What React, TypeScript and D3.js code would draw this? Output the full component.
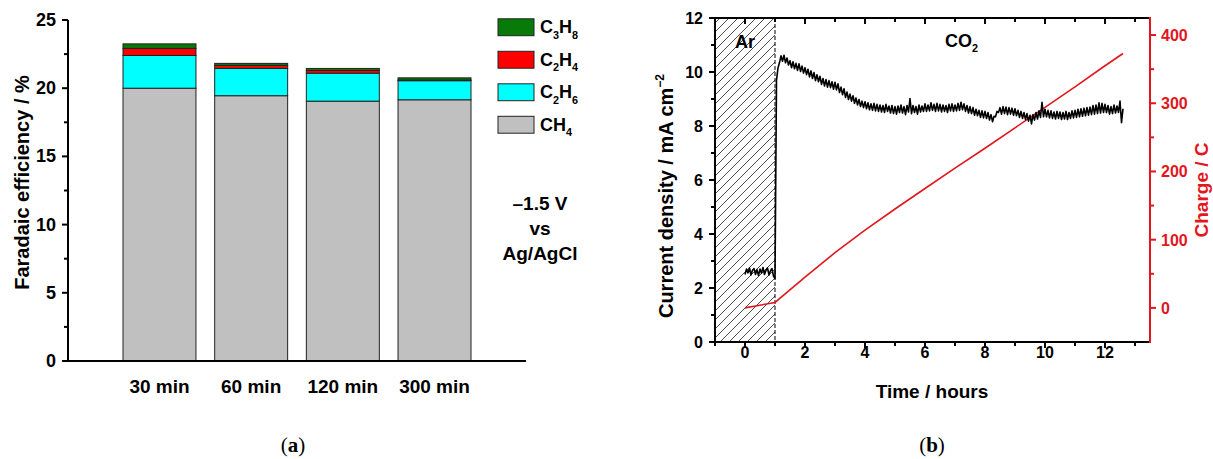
import React from 'react';
import * as d3 from 'd3';

// panel (a): faradaic efficiency, stacked by product
const categories = ['30 min', '60 min', '120 min', '300 min'];
const species = ['CH4', 'C2H6', 'C2H4', 'C3H8'];
const ch4 = [20.0, 19.45, 19.05, 19.15];
const c2h6 = [2.4, 2.0, 2.05, 1.4];
const c2h4 = [0.52, 0.22, 0.2, 0.05];
const c3h8 = [0.33, 0.15, 0.15, 0.16];
const colors = { CH4: '#c0c0c0', C2H6: '#00ffff', C2H4: '#ff0000', C3H8: '#087a08' };
const legendOrder = ['C3H8', 'C2H4', 'C2H6', 'CH4'];

// panel (b): chronoamperometry, current sampled every 0.05 h from t = 0
const currentStart = 0;
const currentStep = 0.05;
const currentValues = [
  2.50, 2.70, 2.56, 2.74, 2.48, 2.66, 2.72, 2.50, 2.68, 2.46,
  2.70, 2.55, 2.76, 2.50, 2.66, 2.74, 2.48, 2.64, 2.72, 2.44,
  2.35, 9.7, 10.15, 10.35, 10.60, 10.40, 10.62, 10.34, 10.52, 10.26,
  10.42, 10.16, 10.38, 10.12, 10.32, 10.06, 10.30, 10.02, 10.22, 9.96,
  10.16, 9.90, 10.10, 9.82, 10.04, 9.76, 9.98, 9.68, 9.90, 9.64,
  9.84, 9.54, 9.76, 9.48, 9.72, 9.44, 9.68, 9.42, 9.64, 9.36,
  9.62, 9.34, 9.56, 9.24, 9.44, 9.16, 9.38, 9.06, 9.26, 8.98,
  9.18, 8.92, 9.12, 8.84, 9.04, 8.78, 8.98, 8.72, 8.92, 8.68,
  8.90, 8.64, 8.86, 8.60, 8.82, 8.58, 8.84, 8.56, 8.80, 8.54,
  8.78, 8.52, 8.76, 8.50, 8.80, 8.54, 8.74, 8.48, 8.76, 8.46,
  8.72, 8.44, 8.74, 8.50, 8.78, 8.48, 8.72, 8.42, 8.76, 8.52,
  9.02, 8.46, 8.76, 8.50, 8.72, 8.44, 8.78, 8.52, 8.74, 8.54,
  8.82, 8.54, 8.78, 8.56, 8.86, 8.58, 8.80, 8.54, 8.84, 8.56,
  8.80, 8.52, 8.78, 8.54, 8.76, 8.50, 8.80, 8.56, 8.82, 8.54,
  8.78, 8.56, 8.84, 8.58, 8.88, 8.60, 8.82, 8.54, 8.76, 8.48,
  8.72, 8.46, 8.68, 8.40, 8.62, 8.38, 8.58, 8.32, 8.56, 8.30,
  8.54, 8.28, 8.50, 8.22, 8.42, 8.16, 8.36, 8.34, 8.54, 8.50,
  8.68, 8.44, 8.72, 8.46, 8.70, 8.42, 8.68, 8.44, 8.66, 8.40,
  8.64, 8.38, 8.58, 8.32, 8.54, 8.28, 8.50, 8.24, 8.46, 8.18,
  8.40, 8.08, 8.42, 8.22, 8.50, 8.26, 8.56, 8.32, 8.88, 8.34,
  8.62, 8.34, 8.58, 8.30, 8.56, 8.28, 8.52, 8.26, 8.54, 8.28,
  8.52, 8.24, 8.50, 8.26, 8.54, 8.24, 8.50, 8.28, 8.56, 8.30,
  8.58, 8.32, 8.62, 8.34, 8.64, 8.36, 8.66, 8.38, 8.68, 8.40,
  8.70, 8.42, 8.76, 8.44, 8.78, 8.46, 8.86, 8.48, 8.84, 8.50,
  8.80, 8.50, 8.76, 8.44, 8.72, 8.46, 8.78, 8.48, 8.74, 8.50,
  8.92, 8.12, 8.64,
];
const chargeTimes = [0, 1, 2, 3, 4, 5, 6, 7, 8, 9, 10, 11, 12, 12.6];
const chargeValues = [0, 8, 45, 81, 114, 145, 175, 205, 234, 264, 294, 324, 355, 373];

const FONT = '"Liberation Sans", Arial, Helvetica, sans-serif';
const RED = '#e3161d';

// draws C2H6 etc. with the digits lowered
function Formula({ text, x, y, size, anchor = 'start' }) {
  const parts = text.match(/[A-Za-z]+|\d+/g) || [];
  let shifted = false;
  return (
    <text x={x} y={y} fontFamily={FONT} fontWeight={700} fontSize={size} textAnchor={anchor}>
      {parts.map((p, i) => {
        const isNum = /\d/.test(p);
        const dy = isNum && !shifted ? size * 0.3 : !isNum && shifted ? -size * 0.3 : 0;
        shifted = isNum;
        return (
          <tspan key={i} dy={dy} fontSize={isNum ? size * 0.6 : size}>
            {p}
          </tspan>
        );
      })}
    </text>
  );
}

export default function App() {
  // ---------- panel (a)
  const ay = d3.scaleLinear().domain([0, 25]).range([361, 20]);
  const ax = d3.scaleBand().domain(categories).range([68, 526]).paddingInner(0.204).paddingOuter(0.6);
  const rows = categories.map((c, i) => ({ cat: c, CH4: ch4[i], C2H6: c2h6[i], C2H4: c2h4[i], C3H8: c3h8[i] }));
  const stacked = d3.stack().keys(species)(rows);
  const aMajor = ay.ticks(5);
  const aMinor = d3.range(2.5, 25, 5);
  const legY = d3.scaleBand().domain(legendOrder).range([11, 141]).paddingInner(0.48).paddingOuter(0.24);

  // ---------- panel (b)
  const bx = d3.scaleLinear().domain([-1, 13.5]).range([715, 1150]);
  const byL = d3.scaleLinear().domain([0, 12]).range([342, 18]);
  const byR = d3.scaleLinear().domain([-50, 425]).range([342, 18]);
  const xMajor = bx.ticks(7);
  const xMinor = d3.range(-1, 14, 1);
  const lMajor = byL.ticks(6);
  const lMinor = d3.range(1, 12, 2);
  const rMajor = byR.ticks(5);
  const rMinor = d3.range(50, 425, 100);

  const currentLine = d3
    .line<number>()
    .x((_, i) => bx(currentStart + i * currentStep))
    .y((d) => byL(d));
  const chargeLine = d3
    .line<number>()
    .x((_, i) => bx(chargeTimes[i]))
    .y((d) => byR(d));

  const [x0, x1] = bx.range();
  const [yb, yt] = byL.range();

  return (
    <svg width={1213} height={459} style={{ position: 'absolute', left: 0, top: 0, background: '#fff' }}>
      <defs>
        <pattern id="hatch" patternUnits="userSpaceOnUse" width={9} height={9}>
          <path d="M0,9 L9,0 M-2,2 L2,-2 M7,11 L11,7" stroke="#3a3a3a" strokeWidth={0.9} />
        </pattern>
      </defs>

      {/* ================= panel (a) ================= */}
      <g>
        {stacked.map((s) => (
          <g key={s.key} fill={colors[s.key]}>
            {s.map((d, i) => (
              <rect
                key={i}
                x={ax(categories[i])}
                width={ax.bandwidth()}
                y={ay(d[1])}
                height={ay(d[0]) - ay(d[1])}
                stroke="#222"
                strokeWidth={1}
              />
            ))}
          </g>
        ))}
        <line x1={ax.range()[0]} x2={ax.range()[1]} y1={ay(0)} y2={ay(0)} stroke="#000" strokeWidth={2} />
        <line x1={68} x2={68} y1={ay(0) + 1} y2={ay(25)} stroke="#000" strokeWidth={2} />
        {aMajor.map((t) => (
          <g key={t}>
            <line x1={62} x2={68} y1={ay(t)} y2={ay(t)} stroke="#000" strokeWidth={2} />
            <text x={56} y={ay(t) + 6} textAnchor="end" fontFamily={FONT} fontWeight={700} fontSize={18}>
              {t}
            </text>
          </g>
        ))}
        {aMinor.map((t) => (
          <line key={t} x1={64} x2={68} y1={ay(t)} y2={ay(t)} stroke="#000" strokeWidth={2} />
        ))}
        {categories.map((c) => (
          <text
            key={c}
            x={ax(c) + ax.bandwidth() / 2}
            y={393}
            textAnchor="middle"
            fontFamily={FONT}
            fontWeight={700}
            fontSize={19}
          >
            {c}
          </text>
        ))}
        <text
          transform={`translate(29,${(ay(0) + ay(25)) / 2 - 8}) rotate(-90)`}
          textAnchor="middle"
          fontFamily={FONT}
          fontWeight={700}
          fontSize={20}
        >
          Faradaic efficiency / %
        </text>

        {legendOrder.map((k) => (
          <g key={k}>
            <rect x={498} y={legY(k)} width={36} height={legY.bandwidth()} fill={colors[k]} stroke="#222" strokeWidth={1} />
            <Formula text={k} x={540} y={legY(k) + legY.bandwidth() / 2 + 6} size={18} />
          </g>
        ))}

        {['\u20131.5 V', 'vs', 'Ag/AgCl'].map((t, i) => (
          <text
            key={t}
            x={540}
            y={210 + i * 25}
            textAnchor="middle"
            fontFamily={FONT}
            fontWeight={700}
            fontSize={19}
          >
            {t}
          </text>
        ))}

        <text x={293} y={452} textAnchor="middle" fontFamily='"Liberation Serif", "DejaVu Serif", serif' fontSize={21}>
          (<tspan fontWeight={700}>a</tspan>)
        </text>
      </g>

      {/* ================= panel (b) ================= */}
      <g>
        <rect x={bx(-1)} y={yt} width={bx(1) - bx(-1)} height={yb - yt} fill="url(#hatch)" />
        <line x1={bx(1)} x2={bx(1)} y1={yt} y2={yb} stroke="#000" strokeWidth={1} strokeDasharray="4,2" />

        <path d={chargeLine(chargeValues) || ''} fill="none" stroke={RED} strokeWidth={1.6} />
        <path d={currentLine(currentValues) || ''} fill="none" stroke="#000" strokeWidth={1.6} strokeLinejoin="round" />

        {/* frame */}
        <line x1={x0} x2={x1} y1={yb} y2={yb} stroke="#000" strokeWidth={2} />
        <line x1={x0} x2={x1} y1={yt} y2={yt} stroke="#000" strokeWidth={2} />
        <line x1={x0} x2={x0} y1={yb} y2={yt} stroke="#000" strokeWidth={2} />
        <line x1={x1} x2={x1} y1={yb + 1} y2={yt - 1} stroke={RED} strokeWidth={2} />

        {/* bottom and top ticks */}
        {xMinor.map((t) => {
          const major = xMajor.includes(t);
          return (
            <g key={t}>
              <line x1={bx(t)} x2={bx(t)} y1={yb} y2={yb + (major ? 6 : 4)} stroke="#000" strokeWidth={2} />
              <line x1={bx(t)} x2={bx(t)} y1={yt} y2={yt + (major ? 6 : 4)} stroke="#000" strokeWidth={2} />
            </g>
          );
        })}
        {xMajor.map((t) => (
          <text key={t} x={bx(t)} y={358} textAnchor="middle" fontFamily={FONT} fontWeight={700} fontSize={16}>
            {t}
          </text>
        ))}

        {/* left axis */}
        {lMajor.map((t) => (
          <g key={t}>
            <line x1={x0 - 6} x2={x0} y1={byL(t)} y2={byL(t)} stroke="#000" strokeWidth={2} />
            <text x={703} y={byL(t) + 6} textAnchor="end" fontFamily={FONT} fontWeight={700} fontSize={16}>
              {t}
            </text>
          </g>
        ))}
        {lMinor.map((t) => (
          <line key={t} x1={x0 - 4} x2={x0} y1={byL(t)} y2={byL(t)} stroke="#000" strokeWidth={2} />
        ))}

        {/* right axis */}
        {rMajor.map((t) => (
          <g key={t}>
            <line x1={x1} x2={x1 + 6} y1={byR(t)} y2={byR(t)} stroke={RED} strokeWidth={2} />
            <text x={1161} y={byR(t) + 6} fontFamily={FONT} fontWeight={700} fontSize={16} fill={RED}>
              {t}
            </text>
          </g>
        ))}
        {rMinor.map((t) => (
          <line key={t} x1={x1} x2={x1 + 4} y1={byR(t)} y2={byR(t)} stroke={RED} strokeWidth={2} />
        ))}

        {/* annotations */}
        <text x={735} y={48} fontFamily={FONT} fontWeight={700} fontSize={18}>
          Ar
        </text>
        <Formula text="CO2" x={945} y={47} size={18} />

        {/* axis titles */}
        <text x={(x0 + x1) / 2 - 0.5} y={398} textAnchor="middle" fontFamily={FONT} fontWeight={700} fontSize={19}>
          Time / hours
        </text>
        <text
          transform={`translate(673,196) rotate(-90)`}
          textAnchor="middle"
          fontFamily={FONT}
          fontWeight={700}
          fontSize={20}
        >
          Current density / mA cm<tspan dy={-9} fontSize={12}>{'\u22122'}</tspan>
        </text>
        <text
          transform={`translate(1208,190) rotate(-90)`}
          textAnchor="middle"
          fontFamily={FONT}
          fontWeight={700}
          fontSize={19}
          fill={RED}
        >
          Charge / C
        </text>

        <text x={932} y={452} textAnchor="middle" fontFamily='"Liberation Serif", "DejaVu Serif", serif' fontSize={21}>
          (<tspan fontWeight={700}>b</tspan>)
        </text>
      </g>
    </svg>
  );
}
